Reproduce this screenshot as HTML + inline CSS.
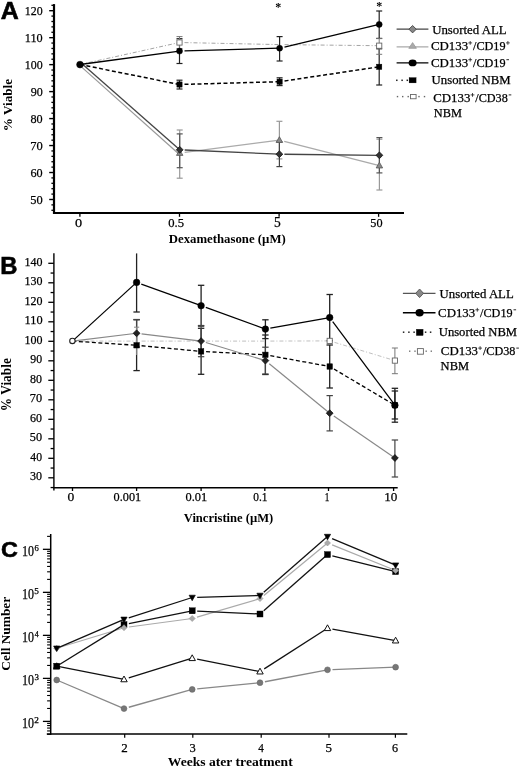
<!DOCTYPE html>
<html><head><meta charset="utf-8"><style>
html,body{margin:0;padding:0;background:#fff;}
body{width:520px;height:771px;overflow:hidden;}
svg{display:block;will-change:transform;}
</style></head><body>
<svg width="520" height="771" viewBox="0 0 520 771">
<rect width="520" height="771" fill="#fff"/>
<text x="0.68" y="19.40" font-family="Liberation Sans" font-size="24.203" font-weight="bold" fill="#000" textLength="18.00" lengthAdjust="spacingAndGlyphs" stroke="#000" stroke-width="0.6">A</text>
<line x1="54.00" y1="4.10" x2="54.00" y2="213.90" stroke="#000" stroke-width="2.2" stroke-linecap="butt"/>
<line x1="53.20" y1="212.90" x2="404.00" y2="212.90" stroke="#000" stroke-width="2.0" stroke-linecap="butt"/>
<line x1="51.40" y1="210.28" x2="54.00" y2="210.28" stroke="#000" stroke-width="1.3" stroke-linecap="butt"/>
<line x1="51.40" y1="204.88" x2="54.00" y2="204.88" stroke="#000" stroke-width="1.3" stroke-linecap="butt"/>
<line x1="49.20" y1="199.49" x2="54.00" y2="199.49" stroke="#000" stroke-width="1.4" stroke-linecap="butt"/>
<line x1="51.40" y1="194.10" x2="54.00" y2="194.10" stroke="#000" stroke-width="1.3" stroke-linecap="butt"/>
<line x1="51.40" y1="188.70" x2="54.00" y2="188.70" stroke="#000" stroke-width="1.3" stroke-linecap="butt"/>
<line x1="51.40" y1="183.31" x2="54.00" y2="183.31" stroke="#000" stroke-width="1.3" stroke-linecap="butt"/>
<line x1="51.40" y1="177.91" x2="54.00" y2="177.91" stroke="#000" stroke-width="1.3" stroke-linecap="butt"/>
<line x1="49.20" y1="172.52" x2="54.00" y2="172.52" stroke="#000" stroke-width="1.4" stroke-linecap="butt"/>
<line x1="51.40" y1="167.13" x2="54.00" y2="167.13" stroke="#000" stroke-width="1.3" stroke-linecap="butt"/>
<line x1="51.40" y1="161.73" x2="54.00" y2="161.73" stroke="#000" stroke-width="1.3" stroke-linecap="butt"/>
<line x1="51.40" y1="156.34" x2="54.00" y2="156.34" stroke="#000" stroke-width="1.3" stroke-linecap="butt"/>
<line x1="51.40" y1="150.94" x2="54.00" y2="150.94" stroke="#000" stroke-width="1.3" stroke-linecap="butt"/>
<line x1="49.20" y1="145.55" x2="54.00" y2="145.55" stroke="#000" stroke-width="1.4" stroke-linecap="butt"/>
<line x1="51.40" y1="140.16" x2="54.00" y2="140.16" stroke="#000" stroke-width="1.3" stroke-linecap="butt"/>
<line x1="51.40" y1="134.76" x2="54.00" y2="134.76" stroke="#000" stroke-width="1.3" stroke-linecap="butt"/>
<line x1="51.40" y1="129.37" x2="54.00" y2="129.37" stroke="#000" stroke-width="1.3" stroke-linecap="butt"/>
<line x1="51.40" y1="123.97" x2="54.00" y2="123.97" stroke="#000" stroke-width="1.3" stroke-linecap="butt"/>
<line x1="49.20" y1="118.58" x2="54.00" y2="118.58" stroke="#000" stroke-width="1.4" stroke-linecap="butt"/>
<line x1="51.40" y1="113.19" x2="54.00" y2="113.19" stroke="#000" stroke-width="1.3" stroke-linecap="butt"/>
<line x1="51.40" y1="107.79" x2="54.00" y2="107.79" stroke="#000" stroke-width="1.3" stroke-linecap="butt"/>
<line x1="51.40" y1="102.40" x2="54.00" y2="102.40" stroke="#000" stroke-width="1.3" stroke-linecap="butt"/>
<line x1="51.40" y1="97.00" x2="54.00" y2="97.00" stroke="#000" stroke-width="1.3" stroke-linecap="butt"/>
<line x1="49.20" y1="91.61" x2="54.00" y2="91.61" stroke="#000" stroke-width="1.4" stroke-linecap="butt"/>
<line x1="51.40" y1="86.22" x2="54.00" y2="86.22" stroke="#000" stroke-width="1.3" stroke-linecap="butt"/>
<line x1="51.40" y1="80.82" x2="54.00" y2="80.82" stroke="#000" stroke-width="1.3" stroke-linecap="butt"/>
<line x1="51.40" y1="75.43" x2="54.00" y2="75.43" stroke="#000" stroke-width="1.3" stroke-linecap="butt"/>
<line x1="51.40" y1="70.03" x2="54.00" y2="70.03" stroke="#000" stroke-width="1.3" stroke-linecap="butt"/>
<line x1="49.20" y1="64.64" x2="54.00" y2="64.64" stroke="#000" stroke-width="1.4" stroke-linecap="butt"/>
<line x1="51.40" y1="59.25" x2="54.00" y2="59.25" stroke="#000" stroke-width="1.3" stroke-linecap="butt"/>
<line x1="51.40" y1="53.85" x2="54.00" y2="53.85" stroke="#000" stroke-width="1.3" stroke-linecap="butt"/>
<line x1="51.40" y1="48.46" x2="54.00" y2="48.46" stroke="#000" stroke-width="1.3" stroke-linecap="butt"/>
<line x1="51.40" y1="43.06" x2="54.00" y2="43.06" stroke="#000" stroke-width="1.3" stroke-linecap="butt"/>
<line x1="49.20" y1="37.67" x2="54.00" y2="37.67" stroke="#000" stroke-width="1.4" stroke-linecap="butt"/>
<line x1="51.40" y1="32.28" x2="54.00" y2="32.28" stroke="#000" stroke-width="1.3" stroke-linecap="butt"/>
<line x1="51.40" y1="26.88" x2="54.00" y2="26.88" stroke="#000" stroke-width="1.3" stroke-linecap="butt"/>
<line x1="51.40" y1="21.49" x2="54.00" y2="21.49" stroke="#000" stroke-width="1.3" stroke-linecap="butt"/>
<line x1="51.40" y1="16.09" x2="54.00" y2="16.09" stroke="#000" stroke-width="1.3" stroke-linecap="butt"/>
<line x1="49.20" y1="10.70" x2="54.00" y2="10.70" stroke="#000" stroke-width="1.4" stroke-linecap="butt"/>
<line x1="51.40" y1="5.31" x2="54.00" y2="5.31" stroke="#000" stroke-width="1.3" stroke-linecap="butt"/>
<text x="30.25" y="204.16" font-family="Liberation Serif" font-size="13.333" font-weight="normal" fill="#000" textLength="12.44" lengthAdjust="spacingAndGlyphs" stroke="#000" stroke-width="0.25">50</text>
<text x="30.51" y="177.19" font-family="Liberation Serif" font-size="13.333" font-weight="normal" fill="#000" textLength="12.17" lengthAdjust="spacingAndGlyphs" stroke="#000" stroke-width="0.25">60</text>
<text x="30.19" y="150.22" font-family="Liberation Serif" font-size="13.333" font-weight="normal" fill="#000" textLength="12.51" lengthAdjust="spacingAndGlyphs" stroke="#000" stroke-width="0.25">70</text>
<text x="30.51" y="123.25" font-family="Liberation Serif" font-size="13.333" font-weight="normal" fill="#000" textLength="12.17" lengthAdjust="spacingAndGlyphs" stroke="#000" stroke-width="0.25">80</text>
<text x="30.64" y="96.28" font-family="Liberation Serif" font-size="13.333" font-weight="normal" fill="#000" textLength="12.04" lengthAdjust="spacingAndGlyphs" stroke="#000" stroke-width="0.25">90</text>
<text x="24.79" y="69.31" font-family="Liberation Serif" font-size="13.333" font-weight="normal" fill="#000" textLength="17.89" lengthAdjust="spacingAndGlyphs" stroke="#000" stroke-width="0.25">100</text>
<text x="24.76" y="42.34" font-family="Liberation Serif" font-size="13.333" font-weight="normal" fill="#000" textLength="17.90" lengthAdjust="spacingAndGlyphs" stroke="#000" stroke-width="0.25">110</text>
<text x="24.79" y="15.37" font-family="Liberation Serif" font-size="13.333" font-weight="normal" fill="#000" textLength="17.89" lengthAdjust="spacingAndGlyphs" stroke="#000" stroke-width="0.25">120</text>
<line x1="79.90" y1="213.00" x2="79.90" y2="216.80" stroke="#000" stroke-width="1.3" stroke-linecap="butt"/>
<line x1="179.50" y1="213.00" x2="179.50" y2="216.80" stroke="#000" stroke-width="1.3" stroke-linecap="butt"/>
<line x1="279.10" y1="213.00" x2="279.10" y2="216.80" stroke="#000" stroke-width="1.3" stroke-linecap="butt"/>
<line x1="378.60" y1="213.00" x2="378.60" y2="216.80" stroke="#000" stroke-width="1.3" stroke-linecap="butt"/>
<text x="75.13" y="227.07" font-family="Liberation Serif" font-size="13.333" font-weight="normal" fill="#000" textLength="7.14" lengthAdjust="spacingAndGlyphs" stroke="#000" stroke-width="0.25">0</text>
<text x="168.19" y="227.07" font-family="Liberation Serif" font-size="13.333" font-weight="normal" fill="#000" textLength="15.81" lengthAdjust="spacingAndGlyphs" stroke="#000" stroke-width="0.25">0.5</text>
<text x="274.09" y="227.06" font-family="Liberation Serif" font-size="13.534" font-weight="normal" fill="#000" textLength="6.75" lengthAdjust="spacingAndGlyphs" stroke="#000" stroke-width="0.25">5</text>
<text x="370.27" y="227.07" font-family="Liberation Serif" font-size="13.333" font-weight="normal" fill="#000" textLength="12.22" lengthAdjust="spacingAndGlyphs" stroke="#000" stroke-width="0.25">50</text>
<text x="168.81" y="242.90" font-family="Liberation Serif" font-size="12.366" font-weight="bold" fill="#000" textLength="116.93" lengthAdjust="spacingAndGlyphs">Dexamethasone (µM)</text>
<text x="0" y="0" transform="translate(12.30,131.21) rotate(-90)" font-family="Liberation Serif" font-size="13.239" font-weight="bold" fill="#000" textLength="52.21" lengthAdjust="spacingAndGlyphs">% Viable</text>
<line x1="179.70" y1="130.00" x2="179.70" y2="178.20" stroke="#999" stroke-width="1.2" stroke-linecap="butt"/>
<line x1="176.70" y1="130.00" x2="182.70" y2="130.00" stroke="#999" stroke-width="1.2" stroke-linecap="butt"/>
<line x1="176.70" y1="178.20" x2="182.70" y2="178.20" stroke="#999" stroke-width="1.2" stroke-linecap="butt"/>
<line x1="179.70" y1="133.90" x2="179.70" y2="167.70" stroke="#555" stroke-width="1.2" stroke-linecap="butt"/>
<line x1="176.70" y1="133.90" x2="182.70" y2="133.90" stroke="#555" stroke-width="1.2" stroke-linecap="butt"/>
<line x1="176.70" y1="167.70" x2="182.70" y2="167.70" stroke="#555" stroke-width="1.2" stroke-linecap="butt"/>
<line x1="279.40" y1="121.30" x2="279.40" y2="158.90" stroke="#999" stroke-width="1.2" stroke-linecap="butt"/>
<line x1="276.40" y1="121.30" x2="282.40" y2="121.30" stroke="#999" stroke-width="1.2" stroke-linecap="butt"/>
<line x1="276.40" y1="158.90" x2="282.40" y2="158.90" stroke="#999" stroke-width="1.2" stroke-linecap="butt"/>
<line x1="279.40" y1="141.80" x2="279.40" y2="166.60" stroke="#444" stroke-width="1.2" stroke-linecap="butt"/>
<line x1="276.40" y1="141.80" x2="282.40" y2="141.80" stroke="#444" stroke-width="1.2" stroke-linecap="butt"/>
<line x1="276.40" y1="166.60" x2="282.40" y2="166.60" stroke="#444" stroke-width="1.2" stroke-linecap="butt"/>
<line x1="379.40" y1="139.20" x2="379.40" y2="190.00" stroke="#999" stroke-width="1.2" stroke-linecap="butt"/>
<line x1="376.40" y1="139.20" x2="382.40" y2="139.20" stroke="#999" stroke-width="1.2" stroke-linecap="butt"/>
<line x1="376.40" y1="190.00" x2="382.40" y2="190.00" stroke="#999" stroke-width="1.2" stroke-linecap="butt"/>
<line x1="379.40" y1="137.60" x2="379.40" y2="172.90" stroke="#555" stroke-width="1.2" stroke-linecap="butt"/>
<line x1="376.40" y1="137.60" x2="382.40" y2="137.60" stroke="#555" stroke-width="1.2" stroke-linecap="butt"/>
<line x1="376.40" y1="172.90" x2="382.40" y2="172.90" stroke="#555" stroke-width="1.2" stroke-linecap="butt"/>
<line x1="179.50" y1="38.70" x2="179.50" y2="63.50" stroke="#222" stroke-width="1.2" stroke-linecap="butt"/>
<line x1="176.50" y1="38.70" x2="182.50" y2="38.70" stroke="#222" stroke-width="1.2" stroke-linecap="butt"/>
<line x1="176.50" y1="63.50" x2="182.50" y2="63.50" stroke="#222" stroke-width="1.2" stroke-linecap="butt"/>
<line x1="279.60" y1="36.60" x2="279.60" y2="61.00" stroke="#222" stroke-width="1.2" stroke-linecap="butt"/>
<line x1="276.60" y1="36.60" x2="282.60" y2="36.60" stroke="#222" stroke-width="1.2" stroke-linecap="butt"/>
<line x1="276.60" y1="61.00" x2="282.60" y2="61.00" stroke="#222" stroke-width="1.2" stroke-linecap="butt"/>
<line x1="379.20" y1="11.00" x2="379.20" y2="38.40" stroke="#222" stroke-width="1.2" stroke-linecap="butt"/>
<line x1="376.20" y1="11.00" x2="382.20" y2="11.00" stroke="#222" stroke-width="1.2" stroke-linecap="butt"/>
<line x1="376.20" y1="38.40" x2="382.20" y2="38.40" stroke="#222" stroke-width="1.2" stroke-linecap="butt"/>
<line x1="179.50" y1="80.20" x2="179.50" y2="89.00" stroke="#222" stroke-width="1.2" stroke-linecap="butt"/>
<line x1="176.50" y1="80.20" x2="182.50" y2="80.20" stroke="#222" stroke-width="1.2" stroke-linecap="butt"/>
<line x1="176.50" y1="89.00" x2="182.50" y2="89.00" stroke="#222" stroke-width="1.2" stroke-linecap="butt"/>
<line x1="279.60" y1="77.80" x2="279.60" y2="85.60" stroke="#222" stroke-width="1.2" stroke-linecap="butt"/>
<line x1="276.60" y1="77.80" x2="282.60" y2="77.80" stroke="#222" stroke-width="1.2" stroke-linecap="butt"/>
<line x1="276.60" y1="85.60" x2="282.60" y2="85.60" stroke="#222" stroke-width="1.2" stroke-linecap="butt"/>
<line x1="379.20" y1="48.80" x2="379.20" y2="85.00" stroke="#222" stroke-width="1.2" stroke-linecap="butt"/>
<line x1="376.20" y1="48.80" x2="382.20" y2="48.80" stroke="#222" stroke-width="1.2" stroke-linecap="butt"/>
<line x1="376.20" y1="85.00" x2="382.20" y2="85.00" stroke="#222" stroke-width="1.2" stroke-linecap="butt"/>
<line x1="179.50" y1="36.60" x2="179.50" y2="48.50" stroke="#777" stroke-width="1.0" stroke-linecap="butt"/>
<line x1="176.50" y1="36.60" x2="182.50" y2="36.60" stroke="#777" stroke-width="1.0" stroke-linecap="butt"/>
<line x1="176.50" y1="48.50" x2="182.50" y2="48.50" stroke="#777" stroke-width="1.0" stroke-linecap="butt"/>
<line x1="379.20" y1="38.60" x2="379.20" y2="54.30" stroke="#777" stroke-width="1.0" stroke-linecap="butt"/>
<line x1="376.20" y1="38.60" x2="382.20" y2="38.60" stroke="#777" stroke-width="1.0" stroke-linecap="butt"/>
<line x1="376.20" y1="54.30" x2="382.20" y2="54.30" stroke="#777" stroke-width="1.0" stroke-linecap="butt"/>
<line x1="80.00" y1="64.50" x2="179.50" y2="42.50" stroke="#999" stroke-width="0.9" stroke-linecap="butt" stroke-dasharray="4,2,1,2"/>
<line x1="184.50" y1="42.60" x2="279.60" y2="44.60" stroke="#999" stroke-width="0.9" stroke-linecap="butt" stroke-dasharray="4,2,1,2"/>
<line x1="284.60" y1="44.66" x2="379.20" y2="45.70" stroke="#999" stroke-width="0.9" stroke-linecap="butt" stroke-dasharray="4,2,1,2"/>
<line x1="80.00" y1="64.50" x2="179.50" y2="84.50" stroke="#000" stroke-width="1.5" stroke-linecap="butt" stroke-dasharray="4,2.5"/>
<line x1="184.50" y1="84.36" x2="279.60" y2="81.70" stroke="#000" stroke-width="1.5" stroke-linecap="butt" stroke-dasharray="4,2.5"/>
<line x1="284.54" y1="80.96" x2="379.20" y2="66.80" stroke="#000" stroke-width="1.5" stroke-linecap="butt" stroke-dasharray="4,2.5"/>
<polyline points="80.00,65.60 178.60,153.80" fill="none" stroke="#999" stroke-width="1.2" stroke-linejoin="round"/>
<polyline points="80.00,61.90 179.70,149.70" fill="none" stroke="#444" stroke-width="1.3" stroke-linejoin="round"/>
<line x1="184.66" y1="152.36" x2="279.40" y2="140.10" stroke="#aaa" stroke-width="1.3" stroke-linecap="butt"/>
<line x1="284.24" y1="141.34" x2="379.40" y2="165.60" stroke="#aaa" stroke-width="1.3" stroke-linecap="butt"/>
<line x1="184.70" y1="150.02" x2="279.40" y2="154.20" stroke="#444" stroke-width="1.3" stroke-linecap="butt"/>
<line x1="284.40" y1="154.25" x2="379.40" y2="155.30" stroke="#444" stroke-width="1.3" stroke-linecap="butt"/>
<line x1="80.00" y1="64.50" x2="179.50" y2="51.10" stroke="#000" stroke-width="1.3" stroke-linecap="butt"/>
<line x1="184.50" y1="50.96" x2="279.60" y2="48.20" stroke="#000" stroke-width="1.3" stroke-linecap="butt"/>
<line x1="284.46" y1="47.04" x2="379.20" y2="24.40" stroke="#000" stroke-width="1.3" stroke-linecap="butt"/>
<rect x="176.90" y="39.90" width="5.20" height="5.20" fill="#fff" stroke="#666" stroke-width="0.9"/>
<rect x="376.60" y="43.10" width="5.20" height="5.20" fill="#fff" stroke="#666" stroke-width="0.9"/>
<rect x="176.90" y="81.90" width="5.20" height="5.20" fill="#000" stroke="#000" stroke-width="0.5"/>
<rect x="277.00" y="79.10" width="5.20" height="5.20" fill="#000" stroke="#000" stroke-width="0.5"/>
<rect x="376.60" y="64.20" width="5.20" height="5.20" fill="#000" stroke="#000" stroke-width="0.5"/>
<path d="M179.70,149.60L182.93,155.38L176.47,155.38Z" fill="#888" stroke="#555" stroke-width="0.8"/>
<path d="M279.40,136.70L282.63,142.48L276.17,142.48Z" fill="#888" stroke="#555" stroke-width="0.8"/>
<path d="M379.40,162.20L382.63,167.98L376.17,167.98Z" fill="#888" stroke="#555" stroke-width="0.8"/>
<path d="M179.70,146.40L183.10,149.80L179.70,153.20L176.30,149.80Z" fill="#333" stroke="#111" stroke-width="0.8"/>
<path d="M279.40,150.80L282.80,154.20L279.40,157.60L276.00,154.20Z" fill="#333" stroke="#111" stroke-width="0.8"/>
<path d="M379.40,151.90L382.80,155.30L379.40,158.70L376.00,155.30Z" fill="#333" stroke="#111" stroke-width="0.8"/>
<circle cx="179.50" cy="51.10" r="3.0" fill="#000" stroke="#000" stroke-width="0.5"/>
<circle cx="279.60" cy="48.20" r="3.0" fill="#000" stroke="#000" stroke-width="0.5"/>
<circle cx="379.20" cy="24.40" r="3.0" fill="#000" stroke="#000" stroke-width="0.5"/>
<circle cx="80.00" cy="64.60" r="3.4" fill="#000" stroke="#000" stroke-width="0.5"/>
<text x="278.30" y="10.50" font-family="Liberation Serif" font-size="12" font-weight="bold" text-anchor="middle" fill="#000">*</text>
<text x="379.20" y="9.80" font-family="Liberation Serif" font-size="12" font-weight="bold" text-anchor="middle" fill="#000">*</text>
<line x1="396.60" y1="29.20" x2="428.40" y2="29.20" stroke="#444" stroke-width="1.3" stroke-linecap="butt"/>
<path d="M412.60,25.50L416.30,29.20L412.60,32.90L408.90,29.20Z" fill="#888" stroke="#444" stroke-width="0.9"/>
<text x="432.14" y="34.07" font-family="Liberation Serif" font-size="13.383" font-weight="normal" fill="#000" textLength="74.52" lengthAdjust="spacingAndGlyphs" stroke="#000" stroke-width="0.25">Unsorted ALL</text>
<line x1="396.60" y1="46.80" x2="428.40" y2="46.80" stroke="#aaa" stroke-width="1.3" stroke-linecap="butt"/>
<path d="M412.6,42.6L416.4,48.3L408.8,48.3Z" fill="#aaa" stroke="#999" stroke-width="0.8"/>
<text x="430.99" y="50.28" font-family="Liberation Serif" font-size="12.388" font-weight="normal" fill="#000" textLength="37.12" lengthAdjust="spacingAndGlyphs" stroke="#000" stroke-width="0.25">CD133</text>
<line x1="468.30" y1="42.90" x2="472.10" y2="42.90" stroke="#111" stroke-width="0.75" stroke-linecap="butt"/>
<line x1="470.20" y1="41.00" x2="470.20" y2="44.80" stroke="#111" stroke-width="0.75" stroke-linecap="butt"/>
<text x="473.00" y="50.28" font-family="Liberation Serif" font-size="12.388" font-weight="normal" fill="#000" textLength="32.51" lengthAdjust="spacingAndGlyphs" stroke="#000" stroke-width="0.25">/CD19</text>
<line x1="506.00" y1="42.90" x2="509.80" y2="42.90" stroke="#111" stroke-width="0.75" stroke-linecap="butt"/>
<line x1="507.90" y1="41.00" x2="507.90" y2="44.80" stroke="#111" stroke-width="0.75" stroke-linecap="butt"/>
<line x1="396.60" y1="62.90" x2="428.40" y2="62.90" stroke="#000" stroke-width="1.3" stroke-linecap="butt"/>
<ellipse cx="412.6" cy="62.9" rx="4.0" ry="3.4" fill="#000"/>
<text x="430.99" y="66.78" font-family="Liberation Serif" font-size="11.940" font-weight="normal" fill="#000" textLength="37.12" lengthAdjust="spacingAndGlyphs" stroke="#000" stroke-width="0.25">CD133</text>
<line x1="468.30" y1="59.70" x2="472.10" y2="59.70" stroke="#111" stroke-width="0.75" stroke-linecap="butt"/>
<line x1="470.20" y1="57.80" x2="470.20" y2="61.60" stroke="#111" stroke-width="0.75" stroke-linecap="butt"/>
<text x="473.00" y="66.78" font-family="Liberation Serif" font-size="11.940" font-weight="normal" fill="#000" textLength="32.51" lengthAdjust="spacingAndGlyphs" stroke="#000" stroke-width="0.25">/CD19</text>
<line x1="506.40" y1="59.70" x2="509.00" y2="59.70" stroke="#111" stroke-width="0.9" stroke-linecap="butt"/>
<rect x="396.05" y="79.55" width="1.50" height="1.50" fill="#222"/>
<rect x="401.35" y="79.55" width="1.50" height="1.50" fill="#222"/>
<rect x="406.55" y="79.55" width="1.50" height="1.50" fill="#222"/>
<rect x="409.10" y="77.60" width="7.00" height="5.30" fill="#000" stroke="#000" stroke-width="0.3"/>
<text x="431.64" y="84.28" font-family="Liberation Serif" font-size="12.030" font-weight="normal" fill="#000" textLength="79.03" lengthAdjust="spacingAndGlyphs" stroke="#000" stroke-width="0.25">Unsorted NBM</text>
<rect x="396.80" y="95.90" width="1.40" height="1.40" fill="#666"/>
<rect x="402.00" y="95.90" width="1.40" height="1.40" fill="#666"/>
<rect x="407.50" y="95.90" width="1.40" height="1.40" fill="#666"/>
<rect x="418.30" y="95.90" width="1.40" height="1.40" fill="#666"/>
<rect x="423.80" y="95.90" width="1.40" height="1.40" fill="#666"/>
<rect x="410.50" y="94.45" width="5.60" height="4.30" fill="#fff" stroke="#666" stroke-width="0.9"/>
<text x="433.29" y="101.98" font-family="Liberation Serif" font-size="11.940" font-weight="normal" fill="#000" textLength="37.12" lengthAdjust="spacingAndGlyphs" stroke="#000" stroke-width="0.25">CD133</text>
<line x1="470.60" y1="94.90" x2="474.40" y2="94.90" stroke="#111" stroke-width="0.75" stroke-linecap="butt"/>
<line x1="472.50" y1="93.00" x2="472.50" y2="96.80" stroke="#111" stroke-width="0.75" stroke-linecap="butt"/>
<text x="475.30" y="101.98" font-family="Liberation Serif" font-size="11.940" font-weight="normal" fill="#000" textLength="32.51" lengthAdjust="spacingAndGlyphs" stroke="#000" stroke-width="0.25">/CD38</text>
<line x1="508.70" y1="94.90" x2="511.30" y2="94.90" stroke="#111" stroke-width="0.9" stroke-linecap="butt"/>
<text x="433.83" y="117.04" font-family="Liberation Serif" font-size="12.576" font-weight="normal" fill="#000" textLength="28.12" lengthAdjust="spacingAndGlyphs" stroke="#000" stroke-width="0.25">NBM</text>
<text x="0.25" y="274.00" font-family="Liberation Sans" font-size="24.203" font-weight="bold" fill="#000" textLength="17.17" lengthAdjust="spacingAndGlyphs" stroke="#000" stroke-width="0.6">B</text>
<line x1="53.90" y1="253.30" x2="53.90" y2="490.40" stroke="#000" stroke-width="1.4" stroke-linecap="butt"/>
<line x1="53.20" y1="487.70" x2="397.70" y2="487.70" stroke="#000" stroke-width="1.6" stroke-linecap="butt"/>
<line x1="50.60" y1="487.55" x2="53.90" y2="487.55" stroke="#000" stroke-width="1.3" stroke-linecap="butt"/>
<line x1="48.30" y1="477.80" x2="53.90" y2="477.80" stroke="#000" stroke-width="1.3" stroke-linecap="butt"/>
<line x1="50.60" y1="468.05" x2="53.90" y2="468.05" stroke="#000" stroke-width="1.3" stroke-linecap="butt"/>
<line x1="48.30" y1="458.30" x2="53.90" y2="458.30" stroke="#000" stroke-width="1.3" stroke-linecap="butt"/>
<line x1="50.60" y1="448.55" x2="53.90" y2="448.55" stroke="#000" stroke-width="1.3" stroke-linecap="butt"/>
<line x1="48.30" y1="438.80" x2="53.90" y2="438.80" stroke="#000" stroke-width="1.3" stroke-linecap="butt"/>
<line x1="50.60" y1="429.05" x2="53.90" y2="429.05" stroke="#000" stroke-width="1.3" stroke-linecap="butt"/>
<line x1="48.30" y1="419.30" x2="53.90" y2="419.30" stroke="#000" stroke-width="1.3" stroke-linecap="butt"/>
<line x1="50.60" y1="409.55" x2="53.90" y2="409.55" stroke="#000" stroke-width="1.3" stroke-linecap="butt"/>
<line x1="48.30" y1="399.80" x2="53.90" y2="399.80" stroke="#000" stroke-width="1.3" stroke-linecap="butt"/>
<line x1="50.60" y1="390.05" x2="53.90" y2="390.05" stroke="#000" stroke-width="1.3" stroke-linecap="butt"/>
<line x1="48.30" y1="380.30" x2="53.90" y2="380.30" stroke="#000" stroke-width="1.3" stroke-linecap="butt"/>
<line x1="50.60" y1="370.55" x2="53.90" y2="370.55" stroke="#000" stroke-width="1.3" stroke-linecap="butt"/>
<line x1="48.30" y1="360.80" x2="53.90" y2="360.80" stroke="#000" stroke-width="1.3" stroke-linecap="butt"/>
<line x1="50.60" y1="351.05" x2="53.90" y2="351.05" stroke="#000" stroke-width="1.3" stroke-linecap="butt"/>
<line x1="48.30" y1="341.30" x2="53.90" y2="341.30" stroke="#000" stroke-width="1.3" stroke-linecap="butt"/>
<line x1="50.60" y1="331.55" x2="53.90" y2="331.55" stroke="#000" stroke-width="1.3" stroke-linecap="butt"/>
<line x1="48.30" y1="321.80" x2="53.90" y2="321.80" stroke="#000" stroke-width="1.3" stroke-linecap="butt"/>
<line x1="50.60" y1="312.05" x2="53.90" y2="312.05" stroke="#000" stroke-width="1.3" stroke-linecap="butt"/>
<line x1="48.30" y1="302.30" x2="53.90" y2="302.30" stroke="#000" stroke-width="1.3" stroke-linecap="butt"/>
<line x1="50.60" y1="292.55" x2="53.90" y2="292.55" stroke="#000" stroke-width="1.3" stroke-linecap="butt"/>
<line x1="48.30" y1="282.80" x2="53.90" y2="282.80" stroke="#000" stroke-width="1.3" stroke-linecap="butt"/>
<line x1="50.60" y1="273.05" x2="53.90" y2="273.05" stroke="#000" stroke-width="1.3" stroke-linecap="butt"/>
<line x1="48.30" y1="263.30" x2="53.90" y2="263.30" stroke="#000" stroke-width="1.3" stroke-linecap="butt"/>
<text x="30.06" y="480.47" font-family="Liberation Serif" font-size="13.037" font-weight="normal" fill="#000" textLength="12.02" lengthAdjust="spacingAndGlyphs" stroke="#000" stroke-width="0.25">30</text>
<text x="30.37" y="460.97" font-family="Liberation Serif" font-size="13.037" font-weight="normal" fill="#000" textLength="11.70" lengthAdjust="spacingAndGlyphs" stroke="#000" stroke-width="0.25">40</text>
<text x="29.87" y="441.47" font-family="Liberation Serif" font-size="13.037" font-weight="normal" fill="#000" textLength="12.22" lengthAdjust="spacingAndGlyphs" stroke="#000" stroke-width="0.25">50</text>
<text x="30.12" y="421.97" font-family="Liberation Serif" font-size="13.037" font-weight="normal" fill="#000" textLength="11.96" lengthAdjust="spacingAndGlyphs" stroke="#000" stroke-width="0.25">60</text>
<text x="29.80" y="402.47" font-family="Liberation Serif" font-size="13.037" font-weight="normal" fill="#000" textLength="12.29" lengthAdjust="spacingAndGlyphs" stroke="#000" stroke-width="0.25">70</text>
<text x="30.12" y="382.97" font-family="Liberation Serif" font-size="13.037" font-weight="normal" fill="#000" textLength="11.96" lengthAdjust="spacingAndGlyphs" stroke="#000" stroke-width="0.25">80</text>
<text x="30.25" y="363.47" font-family="Liberation Serif" font-size="13.037" font-weight="normal" fill="#000" textLength="11.83" lengthAdjust="spacingAndGlyphs" stroke="#000" stroke-width="0.25">90</text>
<text x="24.58" y="343.97" font-family="Liberation Serif" font-size="13.037" font-weight="normal" fill="#000" textLength="18.00" lengthAdjust="spacingAndGlyphs" stroke="#000" stroke-width="0.25">100</text>
<text x="24.55" y="324.47" font-family="Liberation Serif" font-size="13.037" font-weight="normal" fill="#000" textLength="18.01" lengthAdjust="spacingAndGlyphs" stroke="#000" stroke-width="0.25">110</text>
<text x="24.58" y="304.97" font-family="Liberation Serif" font-size="13.037" font-weight="normal" fill="#000" textLength="18.00" lengthAdjust="spacingAndGlyphs" stroke="#000" stroke-width="0.25">120</text>
<text x="24.58" y="285.47" font-family="Liberation Serif" font-size="13.037" font-weight="normal" fill="#000" textLength="18.00" lengthAdjust="spacingAndGlyphs" stroke="#000" stroke-width="0.25">130</text>
<text x="24.58" y="265.97" font-family="Liberation Serif" font-size="13.037" font-weight="normal" fill="#000" textLength="18.00" lengthAdjust="spacingAndGlyphs" stroke="#000" stroke-width="0.25">140</text>
<line x1="72.50" y1="487.50" x2="72.50" y2="491.00" stroke="#000" stroke-width="1.3" stroke-linecap="butt"/>
<line x1="136.60" y1="487.50" x2="136.60" y2="491.00" stroke="#000" stroke-width="1.3" stroke-linecap="butt"/>
<line x1="201.10" y1="487.50" x2="201.10" y2="491.00" stroke="#000" stroke-width="1.3" stroke-linecap="butt"/>
<line x1="264.80" y1="487.50" x2="264.80" y2="491.00" stroke="#000" stroke-width="1.3" stroke-linecap="butt"/>
<line x1="328.50" y1="487.50" x2="328.50" y2="491.00" stroke="#000" stroke-width="1.3" stroke-linecap="butt"/>
<line x1="393.60" y1="487.50" x2="393.60" y2="491.00" stroke="#000" stroke-width="1.3" stroke-linecap="butt"/>
<text x="67.56" y="501.17" font-family="Liberation Serif" font-size="13.185" font-weight="normal" fill="#000" textLength="6.79" lengthAdjust="spacingAndGlyphs" stroke="#000" stroke-width="0.25">0</text>
<text x="113.61" y="501.17" font-family="Liberation Serif" font-size="13.185" font-weight="normal" fill="#000" textLength="27.52" lengthAdjust="spacingAndGlyphs" stroke="#000" stroke-width="0.25">0.001</text>
<text x="185.50" y="501.17" font-family="Liberation Serif" font-size="13.185" font-weight="normal" fill="#000" textLength="21.74" lengthAdjust="spacingAndGlyphs" stroke="#000" stroke-width="0.25">0.01</text>
<text x="253.24" y="501.17" font-family="Liberation Serif" font-size="13.185" font-weight="normal" fill="#000" textLength="14.24" lengthAdjust="spacingAndGlyphs" stroke="#000" stroke-width="0.25">0.1</text>
<text x="324.81" y="501.17" font-family="Liberation Serif" font-size="13.185" font-weight="normal" fill="#000" textLength="4.65" lengthAdjust="spacingAndGlyphs" stroke="#000" stroke-width="0.25">1</text>
<text x="384.28" y="501.17" font-family="Liberation Serif" font-size="13.185" font-weight="normal" fill="#000" textLength="13.14" lengthAdjust="spacingAndGlyphs" stroke="#000" stroke-width="0.25">10</text>
<text x="183.77" y="521.70" font-family="Liberation Serif" font-size="13.284" font-weight="bold" fill="#000" textLength="89.54" lengthAdjust="spacingAndGlyphs">Vincristine (µM)</text>
<text x="0" y="0" transform="translate(11.00,411.13) rotate(-90)" font-family="Liberation Serif" font-size="13.521" font-weight="bold" fill="#000" textLength="52.93" lengthAdjust="spacingAndGlyphs">% Viable</text>
<line x1="136.60" y1="253.40" x2="136.60" y2="312.00" stroke="#222" stroke-width="1.3" stroke-linecap="butt"/>
<line x1="133.40" y1="312.00" x2="139.80" y2="312.00" stroke="#222" stroke-width="1.3" stroke-linecap="butt"/>
<line x1="136.60" y1="319.80" x2="136.60" y2="370.60" stroke="#222" stroke-width="1.3" stroke-linecap="butt"/>
<line x1="133.40" y1="319.80" x2="139.80" y2="319.80" stroke="#222" stroke-width="1.3" stroke-linecap="butt"/>
<line x1="133.40" y1="370.60" x2="139.80" y2="370.60" stroke="#222" stroke-width="1.3" stroke-linecap="butt"/>
<line x1="136.60" y1="319.50" x2="136.60" y2="347.00" stroke="#444" stroke-width="1.2" stroke-linecap="butt"/>
<line x1="133.40" y1="319.50" x2="139.80" y2="319.50" stroke="#444" stroke-width="1.2" stroke-linecap="butt"/>
<line x1="133.40" y1="347.00" x2="139.80" y2="347.00" stroke="#444" stroke-width="1.2" stroke-linecap="butt"/>
<line x1="136.60" y1="327.20" x2="136.60" y2="355.00" stroke="#888" stroke-width="1.0" stroke-linecap="butt"/>
<line x1="134.00" y1="327.20" x2="139.20" y2="327.20" stroke="#888" stroke-width="1.0" stroke-linecap="butt"/>
<line x1="201.10" y1="285.30" x2="201.10" y2="326.10" stroke="#222" stroke-width="1.3" stroke-linecap="butt"/>
<line x1="197.90" y1="285.30" x2="204.30" y2="285.30" stroke="#222" stroke-width="1.3" stroke-linecap="butt"/>
<line x1="197.90" y1="326.10" x2="204.30" y2="326.10" stroke="#222" stroke-width="1.3" stroke-linecap="butt"/>
<line x1="201.10" y1="328.30" x2="201.10" y2="374.30" stroke="#222" stroke-width="1.3" stroke-linecap="butt"/>
<line x1="197.90" y1="328.30" x2="204.30" y2="328.30" stroke="#222" stroke-width="1.3" stroke-linecap="butt"/>
<line x1="197.90" y1="374.30" x2="204.30" y2="374.30" stroke="#222" stroke-width="1.3" stroke-linecap="butt"/>
<line x1="201.10" y1="325.50" x2="201.10" y2="356.70" stroke="#444" stroke-width="1.2" stroke-linecap="butt"/>
<line x1="197.90" y1="325.50" x2="204.30" y2="325.50" stroke="#444" stroke-width="1.2" stroke-linecap="butt"/>
<line x1="197.90" y1="356.70" x2="204.30" y2="356.70" stroke="#444" stroke-width="1.2" stroke-linecap="butt"/>
<line x1="265.40" y1="319.80" x2="265.40" y2="338.60" stroke="#222" stroke-width="1.3" stroke-linecap="butt"/>
<line x1="262.20" y1="319.80" x2="268.60" y2="319.80" stroke="#222" stroke-width="1.3" stroke-linecap="butt"/>
<line x1="262.20" y1="338.60" x2="268.60" y2="338.60" stroke="#222" stroke-width="1.3" stroke-linecap="butt"/>
<line x1="265.40" y1="335.00" x2="265.40" y2="374.50" stroke="#222" stroke-width="1.3" stroke-linecap="butt"/>
<line x1="262.20" y1="335.00" x2="268.60" y2="335.00" stroke="#222" stroke-width="1.3" stroke-linecap="butt"/>
<line x1="262.20" y1="374.50" x2="268.60" y2="374.50" stroke="#222" stroke-width="1.3" stroke-linecap="butt"/>
<line x1="265.40" y1="347.20" x2="265.40" y2="374.00" stroke="#444" stroke-width="1.2" stroke-linecap="butt"/>
<line x1="262.20" y1="347.20" x2="268.60" y2="347.20" stroke="#444" stroke-width="1.2" stroke-linecap="butt"/>
<line x1="262.20" y1="374.00" x2="268.60" y2="374.00" stroke="#444" stroke-width="1.2" stroke-linecap="butt"/>
<line x1="329.70" y1="294.50" x2="329.70" y2="340.70" stroke="#222" stroke-width="1.3" stroke-linecap="butt"/>
<line x1="326.50" y1="294.50" x2="332.90" y2="294.50" stroke="#222" stroke-width="1.3" stroke-linecap="butt"/>
<line x1="326.50" y1="340.70" x2="332.90" y2="340.70" stroke="#222" stroke-width="1.3" stroke-linecap="butt"/>
<line x1="329.70" y1="345.00" x2="329.70" y2="388.00" stroke="#222" stroke-width="1.3" stroke-linecap="butt"/>
<line x1="326.50" y1="345.00" x2="332.90" y2="345.00" stroke="#222" stroke-width="1.3" stroke-linecap="butt"/>
<line x1="326.50" y1="388.00" x2="332.90" y2="388.00" stroke="#222" stroke-width="1.3" stroke-linecap="butt"/>
<line x1="329.70" y1="395.60" x2="329.70" y2="430.90" stroke="#444" stroke-width="1.2" stroke-linecap="butt"/>
<line x1="326.50" y1="395.60" x2="332.90" y2="395.60" stroke="#444" stroke-width="1.2" stroke-linecap="butt"/>
<line x1="326.50" y1="430.90" x2="332.90" y2="430.90" stroke="#444" stroke-width="1.2" stroke-linecap="butt"/>
<line x1="394.90" y1="348.00" x2="394.90" y2="373.70" stroke="#777" stroke-width="1.0" stroke-linecap="butt"/>
<line x1="391.90" y1="348.00" x2="397.90" y2="348.00" stroke="#777" stroke-width="1.0" stroke-linecap="butt"/>
<line x1="391.90" y1="373.70" x2="397.90" y2="373.70" stroke="#777" stroke-width="1.0" stroke-linecap="butt"/>
<line x1="394.90" y1="388.30" x2="394.90" y2="422.20" stroke="#222" stroke-width="1.3" stroke-linecap="butt"/>
<line x1="391.70" y1="388.30" x2="398.10" y2="388.30" stroke="#222" stroke-width="1.3" stroke-linecap="butt"/>
<line x1="391.70" y1="422.20" x2="398.10" y2="422.20" stroke="#222" stroke-width="1.3" stroke-linecap="butt"/>
<line x1="394.90" y1="391.00" x2="394.90" y2="419.00" stroke="#222" stroke-width="1.3" stroke-linecap="butt"/>
<line x1="391.70" y1="391.00" x2="398.10" y2="391.00" stroke="#222" stroke-width="1.3" stroke-linecap="butt"/>
<line x1="391.70" y1="419.00" x2="398.10" y2="419.00" stroke="#222" stroke-width="1.3" stroke-linecap="butt"/>
<line x1="394.90" y1="440.00" x2="394.90" y2="477.00" stroke="#444" stroke-width="1.2" stroke-linecap="butt"/>
<line x1="391.70" y1="440.00" x2="398.10" y2="440.00" stroke="#444" stroke-width="1.2" stroke-linecap="butt"/>
<line x1="391.70" y1="477.00" x2="398.10" y2="477.00" stroke="#444" stroke-width="1.2" stroke-linecap="butt"/>
<line x1="72.40" y1="341.10" x2="136.60" y2="341.10" stroke="#b0b0b0" stroke-width="0.8" stroke-linecap="butt" stroke-dasharray="4,2,1,2"/>
<line x1="141.60" y1="341.10" x2="201.10" y2="341.10" stroke="#b0b0b0" stroke-width="0.8" stroke-linecap="butt" stroke-dasharray="4,2,1,2"/>
<line x1="206.10" y1="341.10" x2="265.40" y2="341.10" stroke="#b0b0b0" stroke-width="0.8" stroke-linecap="butt" stroke-dasharray="4,2,1,2"/>
<line x1="270.40" y1="341.08" x2="329.70" y2="340.90" stroke="#b0b0b0" stroke-width="0.8" stroke-linecap="butt" stroke-dasharray="4,2,1,2"/>
<line x1="334.49" y1="342.35" x2="394.90" y2="360.60" stroke="#b0b0b0" stroke-width="0.8" stroke-linecap="butt" stroke-dasharray="4,2,1,2"/>
<line x1="72.40" y1="341.10" x2="136.60" y2="345.30" stroke="#000" stroke-width="1.3" stroke-linecap="butt" stroke-dasharray="4,2.5"/>
<line x1="141.58" y1="345.77" x2="201.10" y2="351.40" stroke="#000" stroke-width="1.3" stroke-linecap="butt" stroke-dasharray="4,2.5"/>
<line x1="206.09" y1="351.66" x2="265.40" y2="354.80" stroke="#000" stroke-width="1.3" stroke-linecap="butt" stroke-dasharray="4,2.5"/>
<line x1="270.32" y1="355.70" x2="329.70" y2="366.50" stroke="#000" stroke-width="1.3" stroke-linecap="butt" stroke-dasharray="4,2.5"/>
<line x1="334.00" y1="369.05" x2="394.90" y2="405.20" stroke="#000" stroke-width="1.3" stroke-linecap="butt" stroke-dasharray="4,2.5"/>
<line x1="72.40" y1="341.10" x2="136.60" y2="333.30" stroke="#888" stroke-width="1.15" stroke-linecap="butt"/>
<line x1="141.56" y1="333.90" x2="201.10" y2="341.10" stroke="#888" stroke-width="1.15" stroke-linecap="butt"/>
<line x1="205.88" y1="342.55" x2="265.40" y2="360.60" stroke="#888" stroke-width="1.15" stroke-linecap="butt"/>
<line x1="269.27" y1="363.77" x2="329.70" y2="413.20" stroke="#888" stroke-width="1.15" stroke-linecap="butt"/>
<line x1="333.82" y1="416.03" x2="394.90" y2="458.00" stroke="#888" stroke-width="1.15" stroke-linecap="butt"/>
<line x1="72.40" y1="341.10" x2="136.60" y2="282.40" stroke="#000" stroke-width="1.25" stroke-linecap="butt"/>
<line x1="141.30" y1="284.10" x2="201.10" y2="305.70" stroke="#000" stroke-width="1.25" stroke-linecap="butt"/>
<line x1="205.80" y1="307.41" x2="265.40" y2="329.10" stroke="#000" stroke-width="1.25" stroke-linecap="butt"/>
<line x1="270.32" y1="328.22" x2="329.70" y2="317.60" stroke="#000" stroke-width="1.25" stroke-linecap="butt"/>
<line x1="332.69" y1="321.61" x2="394.90" y2="405.20" stroke="#000" stroke-width="1.25" stroke-linecap="butt"/>
<rect x="327.10" y="338.30" width="5.20" height="5.20" fill="#fff" stroke="#666" stroke-width="0.9"/>
<rect x="392.30" y="358.00" width="5.20" height="5.20" fill="#fff" stroke="#666" stroke-width="0.9"/>
<rect x="133.90" y="342.60" width="5.40" height="5.40" fill="#000" stroke="#000" stroke-width="0.5"/>
<rect x="198.40" y="348.70" width="5.40" height="5.40" fill="#000" stroke="#000" stroke-width="0.5"/>
<rect x="262.70" y="352.10" width="5.40" height="5.40" fill="#000" stroke="#000" stroke-width="0.5"/>
<rect x="327.00" y="363.80" width="5.40" height="5.40" fill="#000" stroke="#000" stroke-width="0.5"/>
<rect x="392.20" y="402.50" width="5.40" height="5.40" fill="#000" stroke="#000" stroke-width="0.5"/>
<path d="M136.60,329.90L140.00,333.30L136.60,336.70L133.20,333.30Z" fill="#222" stroke="#111" stroke-width="0.8"/>
<path d="M201.10,337.70L204.50,341.10L201.10,344.50L197.70,341.10Z" fill="#222" stroke="#111" stroke-width="0.8"/>
<path d="M265.40,357.20L268.80,360.60L265.40,364.00L262.00,360.60Z" fill="#222" stroke="#111" stroke-width="0.8"/>
<path d="M329.70,409.80L333.10,413.20L329.70,416.60L326.30,413.20Z" fill="#222" stroke="#111" stroke-width="0.8"/>
<path d="M394.90,454.60L398.30,458.00L394.90,461.40L391.50,458.00Z" fill="#222" stroke="#111" stroke-width="0.8"/>
<circle cx="136.60" cy="282.40" r="3.3" fill="#000" stroke="#000" stroke-width="0.5"/>
<circle cx="201.10" cy="305.70" r="3.3" fill="#000" stroke="#000" stroke-width="0.5"/>
<circle cx="265.40" cy="329.10" r="3.3" fill="#000" stroke="#000" stroke-width="0.5"/>
<circle cx="329.70" cy="317.60" r="3.3" fill="#000" stroke="#000" stroke-width="0.5"/>
<circle cx="394.90" cy="405.20" r="3.3" fill="#000" stroke="#000" stroke-width="0.5"/>
<circle cx="72.40" cy="340.90" r="2.7" fill="#fff" stroke="#222" stroke-width="1.1"/>
<line x1="402.90" y1="293.30" x2="435.50" y2="293.30" stroke="#555" stroke-width="1.3" stroke-linecap="butt"/>
<path d="M419.60,289.00L423.50,293.30L419.60,297.60L415.70,293.30Z" fill="#888" stroke="#555" stroke-width="0.9"/>
<text x="439.54" y="297.87" font-family="Liberation Serif" font-size="12.932" font-weight="normal" fill="#000" textLength="74.22" lengthAdjust="spacingAndGlyphs" stroke="#000" stroke-width="0.25">Unsorted ALL</text>
<line x1="402.90" y1="312.80" x2="435.50" y2="312.80" stroke="#000" stroke-width="1.4" stroke-linecap="butt"/>
<ellipse cx="419.6" cy="312.8" rx="4.1" ry="3.7" fill="#000"/>
<text x="438.09" y="317.47" font-family="Liberation Serif" font-size="12.836" font-weight="normal" fill="#000" textLength="37.12" lengthAdjust="spacingAndGlyphs" stroke="#000" stroke-width="0.25">CD133</text>
<line x1="475.40" y1="309.80" x2="479.20" y2="309.80" stroke="#111" stroke-width="0.75" stroke-linecap="butt"/>
<line x1="477.30" y1="307.90" x2="477.30" y2="311.70" stroke="#111" stroke-width="0.75" stroke-linecap="butt"/>
<text x="480.10" y="317.47" font-family="Liberation Serif" font-size="12.836" font-weight="normal" fill="#000" textLength="32.51" lengthAdjust="spacingAndGlyphs" stroke="#000" stroke-width="0.25">/CD19</text>
<line x1="513.50" y1="309.80" x2="516.10" y2="309.80" stroke="#111" stroke-width="0.9" stroke-linecap="butt"/>
<rect x="402.85" y="331.45" width="1.50" height="1.50" fill="#222"/>
<rect x="408.15" y="331.45" width="1.50" height="1.50" fill="#222"/>
<rect x="413.35" y="331.45" width="1.50" height="1.50" fill="#222"/>
<rect x="424.85" y="331.45" width="1.50" height="1.50" fill="#222"/>
<rect x="429.85" y="331.45" width="1.50" height="1.50" fill="#222"/>
<rect x="416.30" y="329.25" width="6.80" height="6.30" fill="#000" stroke="#000" stroke-width="0.3"/>
<text x="438.75" y="336.48" font-family="Liberation Serif" font-size="12.481" font-weight="normal" fill="#000" textLength="78.32" lengthAdjust="spacingAndGlyphs" stroke="#000" stroke-width="0.25">Unsorted NBM</text>
<rect x="409.00" y="350.50" width="1.40" height="1.40" fill="#777"/>
<rect x="414.30" y="350.50" width="1.40" height="1.40" fill="#777"/>
<rect x="425.50" y="350.50" width="1.40" height="1.40" fill="#777"/>
<rect x="430.60" y="350.50" width="1.40" height="1.40" fill="#777"/>
<rect x="417.40" y="348.60" width="6.00" height="5.60" fill="#fff" stroke="#666" stroke-width="0.9"/>
<text x="440.89" y="355.48" font-family="Liberation Serif" font-size="12.388" font-weight="normal" fill="#000" textLength="37.12" lengthAdjust="spacingAndGlyphs" stroke="#000" stroke-width="0.25">CD133</text>
<line x1="478.20" y1="348.10" x2="482.00" y2="348.10" stroke="#111" stroke-width="0.75" stroke-linecap="butt"/>
<line x1="480.10" y1="346.20" x2="480.10" y2="350.00" stroke="#111" stroke-width="0.75" stroke-linecap="butt"/>
<text x="482.90" y="355.48" font-family="Liberation Serif" font-size="12.388" font-weight="normal" fill="#000" textLength="32.51" lengthAdjust="spacingAndGlyphs" stroke="#000" stroke-width="0.25">/CD38</text>
<line x1="516.30" y1="348.10" x2="518.90" y2="348.10" stroke="#111" stroke-width="0.9" stroke-linecap="butt"/>
<text x="440.63" y="370.44" font-family="Liberation Serif" font-size="11.818" font-weight="normal" fill="#000" textLength="28.43" lengthAdjust="spacingAndGlyphs" stroke="#000" stroke-width="0.25">NBM</text>
<text x="0.97" y="557.07" font-family="Liberation Sans" font-size="22.817" font-weight="bold" fill="#000" textLength="16.87" lengthAdjust="spacingAndGlyphs" stroke="#000" stroke-width="0.6">C</text>
<line x1="50.70" y1="534.00" x2="50.70" y2="734.80" stroke="#000" stroke-width="1.5" stroke-linecap="butt"/>
<line x1="46.80" y1="734.10" x2="407.30" y2="734.10" stroke="#000" stroke-width="1.5" stroke-linecap="butt"/>
<line x1="47.10" y1="734.35" x2="50.70" y2="734.35" stroke="#000" stroke-width="1.1" stroke-linecap="butt"/>
<line x1="47.10" y1="730.94" x2="50.70" y2="730.94" stroke="#000" stroke-width="1.1" stroke-linecap="butt"/>
<line x1="47.10" y1="728.06" x2="50.70" y2="728.06" stroke="#000" stroke-width="1.1" stroke-linecap="butt"/>
<line x1="47.10" y1="725.57" x2="50.70" y2="725.57" stroke="#000" stroke-width="1.1" stroke-linecap="butt"/>
<line x1="47.10" y1="723.37" x2="50.70" y2="723.37" stroke="#000" stroke-width="1.1" stroke-linecap="butt"/>
<line x1="42.90" y1="721.40" x2="50.70" y2="721.40" stroke="#000" stroke-width="1.3" stroke-linecap="butt"/>
<line x1="47.10" y1="708.45" x2="50.70" y2="708.45" stroke="#000" stroke-width="1.1" stroke-linecap="butt"/>
<line x1="47.10" y1="700.87" x2="50.70" y2="700.87" stroke="#000" stroke-width="1.1" stroke-linecap="butt"/>
<line x1="47.10" y1="695.50" x2="50.70" y2="695.50" stroke="#000" stroke-width="1.1" stroke-linecap="butt"/>
<line x1="47.10" y1="691.33" x2="50.70" y2="691.33" stroke="#000" stroke-width="1.1" stroke-linecap="butt"/>
<line x1="47.10" y1="687.92" x2="50.70" y2="687.92" stroke="#000" stroke-width="1.1" stroke-linecap="butt"/>
<line x1="47.10" y1="685.04" x2="50.70" y2="685.04" stroke="#000" stroke-width="1.1" stroke-linecap="butt"/>
<line x1="47.10" y1="682.55" x2="50.70" y2="682.55" stroke="#000" stroke-width="1.1" stroke-linecap="butt"/>
<line x1="47.10" y1="680.35" x2="50.70" y2="680.35" stroke="#000" stroke-width="1.1" stroke-linecap="butt"/>
<line x1="42.90" y1="678.38" x2="50.70" y2="678.38" stroke="#000" stroke-width="1.3" stroke-linecap="butt"/>
<line x1="47.10" y1="665.43" x2="50.70" y2="665.43" stroke="#000" stroke-width="1.1" stroke-linecap="butt"/>
<line x1="47.10" y1="657.85" x2="50.70" y2="657.85" stroke="#000" stroke-width="1.1" stroke-linecap="butt"/>
<line x1="47.10" y1="652.48" x2="50.70" y2="652.48" stroke="#000" stroke-width="1.1" stroke-linecap="butt"/>
<line x1="47.10" y1="648.31" x2="50.70" y2="648.31" stroke="#000" stroke-width="1.1" stroke-linecap="butt"/>
<line x1="47.10" y1="644.90" x2="50.70" y2="644.90" stroke="#000" stroke-width="1.1" stroke-linecap="butt"/>
<line x1="47.10" y1="642.02" x2="50.70" y2="642.02" stroke="#000" stroke-width="1.1" stroke-linecap="butt"/>
<line x1="47.10" y1="639.53" x2="50.70" y2="639.53" stroke="#000" stroke-width="1.1" stroke-linecap="butt"/>
<line x1="47.10" y1="637.33" x2="50.70" y2="637.33" stroke="#000" stroke-width="1.1" stroke-linecap="butt"/>
<line x1="42.90" y1="635.36" x2="50.70" y2="635.36" stroke="#000" stroke-width="1.3" stroke-linecap="butt"/>
<line x1="47.10" y1="622.41" x2="50.70" y2="622.41" stroke="#000" stroke-width="1.1" stroke-linecap="butt"/>
<line x1="47.10" y1="614.83" x2="50.70" y2="614.83" stroke="#000" stroke-width="1.1" stroke-linecap="butt"/>
<line x1="47.10" y1="609.46" x2="50.70" y2="609.46" stroke="#000" stroke-width="1.1" stroke-linecap="butt"/>
<line x1="47.10" y1="605.29" x2="50.70" y2="605.29" stroke="#000" stroke-width="1.1" stroke-linecap="butt"/>
<line x1="47.10" y1="601.88" x2="50.70" y2="601.88" stroke="#000" stroke-width="1.1" stroke-linecap="butt"/>
<line x1="47.10" y1="599.00" x2="50.70" y2="599.00" stroke="#000" stroke-width="1.1" stroke-linecap="butt"/>
<line x1="47.10" y1="596.51" x2="50.70" y2="596.51" stroke="#000" stroke-width="1.1" stroke-linecap="butt"/>
<line x1="47.10" y1="594.31" x2="50.70" y2="594.31" stroke="#000" stroke-width="1.1" stroke-linecap="butt"/>
<line x1="42.90" y1="592.34" x2="50.70" y2="592.34" stroke="#000" stroke-width="1.3" stroke-linecap="butt"/>
<line x1="47.10" y1="579.39" x2="50.70" y2="579.39" stroke="#000" stroke-width="1.1" stroke-linecap="butt"/>
<line x1="47.10" y1="571.81" x2="50.70" y2="571.81" stroke="#000" stroke-width="1.1" stroke-linecap="butt"/>
<line x1="47.10" y1="566.44" x2="50.70" y2="566.44" stroke="#000" stroke-width="1.1" stroke-linecap="butt"/>
<line x1="47.10" y1="562.27" x2="50.70" y2="562.27" stroke="#000" stroke-width="1.1" stroke-linecap="butt"/>
<line x1="47.10" y1="558.86" x2="50.70" y2="558.86" stroke="#000" stroke-width="1.1" stroke-linecap="butt"/>
<line x1="47.10" y1="555.98" x2="50.70" y2="555.98" stroke="#000" stroke-width="1.1" stroke-linecap="butt"/>
<line x1="47.10" y1="553.49" x2="50.70" y2="553.49" stroke="#000" stroke-width="1.1" stroke-linecap="butt"/>
<line x1="47.10" y1="551.29" x2="50.70" y2="551.29" stroke="#000" stroke-width="1.1" stroke-linecap="butt"/>
<line x1="42.90" y1="549.32" x2="50.70" y2="549.32" stroke="#000" stroke-width="1.3" stroke-linecap="butt"/>
<line x1="47.10" y1="536.37" x2="50.70" y2="536.37" stroke="#000" stroke-width="1.1" stroke-linecap="butt"/>
<text x="22.08" y="727.86" font-family="Liberation Serif" font-size="13.630" font-weight="normal" fill="#000" textLength="12.00" lengthAdjust="spacingAndGlyphs" stroke="#000" stroke-width="0.25">10</text>
<text x="34.38" y="723.10" font-family="Liberation Serif" font-size="8.182" font-weight="normal" fill="#000" textLength="4.63" lengthAdjust="spacingAndGlyphs" stroke="#000" stroke-width="0.25">2</text>
<text x="22.08" y="684.84" font-family="Liberation Serif" font-size="13.630" font-weight="normal" fill="#000" textLength="12.00" lengthAdjust="spacingAndGlyphs" stroke="#000" stroke-width="0.25">10</text>
<text x="34.40" y="680.00" font-family="Liberation Serif" font-size="8.060" font-weight="normal" fill="#000" textLength="4.46" lengthAdjust="spacingAndGlyphs" stroke="#000" stroke-width="0.25">3</text>
<text x="22.08" y="641.82" font-family="Liberation Serif" font-size="13.630" font-weight="normal" fill="#000" textLength="12.00" lengthAdjust="spacingAndGlyphs" stroke="#000" stroke-width="0.25">10</text>
<text x="34.64" y="637.06" font-family="Liberation Serif" font-size="8.182" font-weight="normal" fill="#000" textLength="3.98" lengthAdjust="spacingAndGlyphs" stroke="#000" stroke-width="0.25">4</text>
<text x="22.08" y="598.80" font-family="Liberation Serif" font-size="13.630" font-weight="normal" fill="#000" textLength="12.00" lengthAdjust="spacingAndGlyphs" stroke="#000" stroke-width="0.25">10</text>
<text x="34.24" y="593.96" font-family="Liberation Serif" font-size="8.120" font-weight="normal" fill="#000" textLength="4.63" lengthAdjust="spacingAndGlyphs" stroke="#000" stroke-width="0.25">5</text>
<text x="22.08" y="555.78" font-family="Liberation Serif" font-size="13.630" font-weight="normal" fill="#000" textLength="12.00" lengthAdjust="spacingAndGlyphs" stroke="#000" stroke-width="0.25">10</text>
<text x="34.46" y="550.94" font-family="Liberation Serif" font-size="8.060" font-weight="normal" fill="#000" textLength="4.30" lengthAdjust="spacingAndGlyphs" stroke="#000" stroke-width="0.25">6</text>
<line x1="124.70" y1="734.00" x2="124.70" y2="737.80" stroke="#000" stroke-width="1.2" stroke-linecap="butt"/>
<line x1="192.80" y1="734.00" x2="192.80" y2="737.80" stroke="#000" stroke-width="1.2" stroke-linecap="butt"/>
<line x1="261.20" y1="734.00" x2="261.20" y2="737.80" stroke="#000" stroke-width="1.2" stroke-linecap="butt"/>
<line x1="329.00" y1="734.00" x2="329.00" y2="737.80" stroke="#000" stroke-width="1.2" stroke-linecap="butt"/>
<line x1="395.40" y1="734.00" x2="395.40" y2="737.80" stroke="#000" stroke-width="1.2" stroke-linecap="butt"/>
<text x="121.32" y="752.30" font-family="Liberation Serif" font-size="13.030" font-weight="normal" fill="#000" textLength="6.50" lengthAdjust="spacingAndGlyphs" stroke="#000" stroke-width="0.25">2</text>
<text x="189.44" y="752.17" font-family="Liberation Serif" font-size="12.836" font-weight="normal" fill="#000" textLength="6.27" lengthAdjust="spacingAndGlyphs" stroke="#000" stroke-width="0.25">3</text>
<text x="258.18" y="752.30" font-family="Liberation Serif" font-size="13.030" font-weight="normal" fill="#000" textLength="5.59" lengthAdjust="spacingAndGlyphs" stroke="#000" stroke-width="0.25">4</text>
<text x="325.42" y="752.17" font-family="Liberation Serif" font-size="12.932" font-weight="normal" fill="#000" textLength="6.50" lengthAdjust="spacingAndGlyphs" stroke="#000" stroke-width="0.25">5</text>
<text x="392.12" y="752.17" font-family="Liberation Serif" font-size="12.836" font-weight="normal" fill="#000" textLength="6.05" lengthAdjust="spacingAndGlyphs" stroke="#000" stroke-width="0.25">6</text>
<text x="167.80" y="766.31" font-family="Liberation Serif" font-size="12.836" font-weight="bold" fill="#000" textLength="124.93" lengthAdjust="spacingAndGlyphs">Weeks ater treatment</text>
<text x="0" y="0" transform="translate(9.87,670.67) rotate(-90)" font-family="Liberation Serif" font-size="12.624" font-weight="bold" fill="#000" textLength="73.89" lengthAdjust="spacingAndGlyphs">Cell Number</text>
<line x1="56.70" y1="648.30" x2="124.00" y2="627.70" stroke="#aaa" stroke-width="1.2" stroke-linecap="butt"/>
<line x1="128.96" y1="627.03" x2="192.20" y2="618.50" stroke="#aaa" stroke-width="1.2" stroke-linecap="butt"/>
<line x1="197.00" y1="617.09" x2="260.00" y2="598.60" stroke="#aaa" stroke-width="1.2" stroke-linecap="butt"/>
<line x1="263.86" y1="595.42" x2="327.50" y2="543.00" stroke="#aaa" stroke-width="1.2" stroke-linecap="butt"/>
<line x1="332.14" y1="544.87" x2="395.60" y2="570.50" stroke="#aaa" stroke-width="1.2" stroke-linecap="butt"/>
<line x1="56.70" y1="680.00" x2="124.00" y2="708.60" stroke="#888" stroke-width="1.3" stroke-linecap="butt"/>
<line x1="128.81" y1="707.25" x2="192.20" y2="689.40" stroke="#888" stroke-width="1.3" stroke-linecap="butt"/>
<line x1="197.18" y1="688.91" x2="260.00" y2="682.70" stroke="#888" stroke-width="1.3" stroke-linecap="butt"/>
<line x1="264.91" y1="681.76" x2="327.50" y2="669.80" stroke="#888" stroke-width="1.3" stroke-linecap="butt"/>
<line x1="332.50" y1="669.61" x2="395.60" y2="667.20" stroke="#888" stroke-width="1.3" stroke-linecap="butt"/>
<line x1="56.70" y1="666.20" x2="124.00" y2="679.40" stroke="#111" stroke-width="1.3" stroke-linecap="butt"/>
<line x1="128.77" y1="677.92" x2="192.20" y2="658.20" stroke="#111" stroke-width="1.3" stroke-linecap="butt"/>
<line x1="197.11" y1="659.17" x2="260.00" y2="671.60" stroke="#111" stroke-width="1.3" stroke-linecap="butt"/>
<line x1="264.21" y1="668.90" x2="327.50" y2="628.20" stroke="#111" stroke-width="1.3" stroke-linecap="butt"/>
<line x1="332.42" y1="629.10" x2="395.60" y2="640.60" stroke="#111" stroke-width="1.3" stroke-linecap="butt"/>
<line x1="56.70" y1="666.20" x2="124.00" y2="624.60" stroke="#111" stroke-width="1.3" stroke-linecap="butt"/>
<line x1="128.90" y1="623.61" x2="192.20" y2="610.80" stroke="#111" stroke-width="1.3" stroke-linecap="butt"/>
<line x1="197.19" y1="611.04" x2="260.00" y2="614.00" stroke="#111" stroke-width="1.3" stroke-linecap="butt"/>
<line x1="263.75" y1="610.70" x2="327.50" y2="554.60" stroke="#111" stroke-width="1.3" stroke-linecap="butt"/>
<line x1="332.35" y1="555.81" x2="395.60" y2="571.60" stroke="#111" stroke-width="1.3" stroke-linecap="butt"/>
<line x1="56.70" y1="648.30" x2="124.00" y2="619.40" stroke="#111" stroke-width="1.3" stroke-linecap="butt"/>
<line x1="128.76" y1="617.87" x2="192.20" y2="597.50" stroke="#111" stroke-width="1.3" stroke-linecap="butt"/>
<line x1="197.20" y1="597.35" x2="260.00" y2="595.50" stroke="#111" stroke-width="1.3" stroke-linecap="butt"/>
<line x1="263.77" y1="592.21" x2="327.50" y2="536.60" stroke="#111" stroke-width="1.3" stroke-linecap="butt"/>
<line x1="332.11" y1="538.54" x2="395.60" y2="565.20" stroke="#111" stroke-width="1.3" stroke-linecap="butt"/>
<circle cx="56.70" cy="680.00" r="2.9" fill="#777" stroke="#666" stroke-width="0.6"/>
<circle cx="124.00" cy="708.60" r="2.9" fill="#777" stroke="#666" stroke-width="0.6"/>
<circle cx="192.20" cy="689.40" r="2.9" fill="#777" stroke="#666" stroke-width="0.6"/>
<circle cx="260.00" cy="682.70" r="2.9" fill="#777" stroke="#666" stroke-width="0.6"/>
<circle cx="327.50" cy="669.80" r="2.9" fill="#777" stroke="#666" stroke-width="0.6"/>
<circle cx="395.60" cy="667.20" r="2.9" fill="#777" stroke="#666" stroke-width="0.6"/>
<path d="M56.70,662.80L59.93,668.58L53.47,668.58Z" fill="#fff" stroke="#111" stroke-width="1.0"/>
<path d="M124.00,676.00L127.23,681.78L120.77,681.78Z" fill="#fff" stroke="#111" stroke-width="1.0"/>
<path d="M192.20,654.80L195.43,660.58L188.97,660.58Z" fill="#fff" stroke="#111" stroke-width="1.0"/>
<path d="M260.00,668.20L263.23,673.98L256.77,673.98Z" fill="#fff" stroke="#111" stroke-width="1.0"/>
<path d="M327.50,624.80L330.73,630.58L324.27,630.58Z" fill="#fff" stroke="#111" stroke-width="1.0"/>
<path d="M395.60,637.20L398.83,642.98L392.37,642.98Z" fill="#fff" stroke="#111" stroke-width="1.0"/>
<rect x="53.70" y="663.20" width="6.00" height="6.00" fill="#000" stroke="#000" stroke-width="0.4"/>
<rect x="121.00" y="621.60" width="6.00" height="6.00" fill="#000" stroke="#000" stroke-width="0.4"/>
<rect x="189.20" y="607.80" width="6.00" height="6.00" fill="#000" stroke="#000" stroke-width="0.4"/>
<rect x="257.00" y="611.00" width="6.00" height="6.00" fill="#000" stroke="#000" stroke-width="0.4"/>
<rect x="324.50" y="551.60" width="6.00" height="6.00" fill="#000" stroke="#000" stroke-width="0.4"/>
<rect x="392.60" y="568.60" width="6.00" height="6.00" fill="#000" stroke="#000" stroke-width="0.4"/>
<path d="M56.70,645.30L59.70,648.30L56.70,651.30L53.70,648.30Z" fill="#aaa" stroke="#999" stroke-width="0.6"/>
<path d="M124.00,624.70L127.00,627.70L124.00,630.70L121.00,627.70Z" fill="#aaa" stroke="#999" stroke-width="0.6"/>
<path d="M192.20,615.50L195.20,618.50L192.20,621.50L189.20,618.50Z" fill="#aaa" stroke="#999" stroke-width="0.6"/>
<path d="M260.00,595.60L263.00,598.60L260.00,601.60L257.00,598.60Z" fill="#aaa" stroke="#999" stroke-width="0.6"/>
<path d="M327.50,540.00L330.50,543.00L327.50,546.00L324.50,543.00Z" fill="#aaa" stroke="#999" stroke-width="0.6"/>
<path d="M395.60,567.50L398.60,570.50L395.60,573.50L392.60,570.50Z" fill="#aaa" stroke="#999" stroke-width="0.6"/>
<path d="M56.70,651.60L59.84,645.99L53.57,645.99Z" fill="#000" stroke="#000" stroke-width="0.6"/>
<path d="M124.00,622.70L127.14,617.09L120.86,617.09Z" fill="#000" stroke="#000" stroke-width="0.6"/>
<path d="M192.20,600.80L195.33,595.19L189.06,595.19Z" fill="#000" stroke="#000" stroke-width="0.6"/>
<path d="M260.00,598.80L263.13,593.19L256.87,593.19Z" fill="#000" stroke="#000" stroke-width="0.6"/>
<path d="M327.50,539.90L330.63,534.29L324.37,534.29Z" fill="#000" stroke="#000" stroke-width="0.6"/>
<path d="M395.60,568.50L398.74,562.89L392.47,562.89Z" fill="#000" stroke="#000" stroke-width="0.6"/>
</svg>
</body></html>
